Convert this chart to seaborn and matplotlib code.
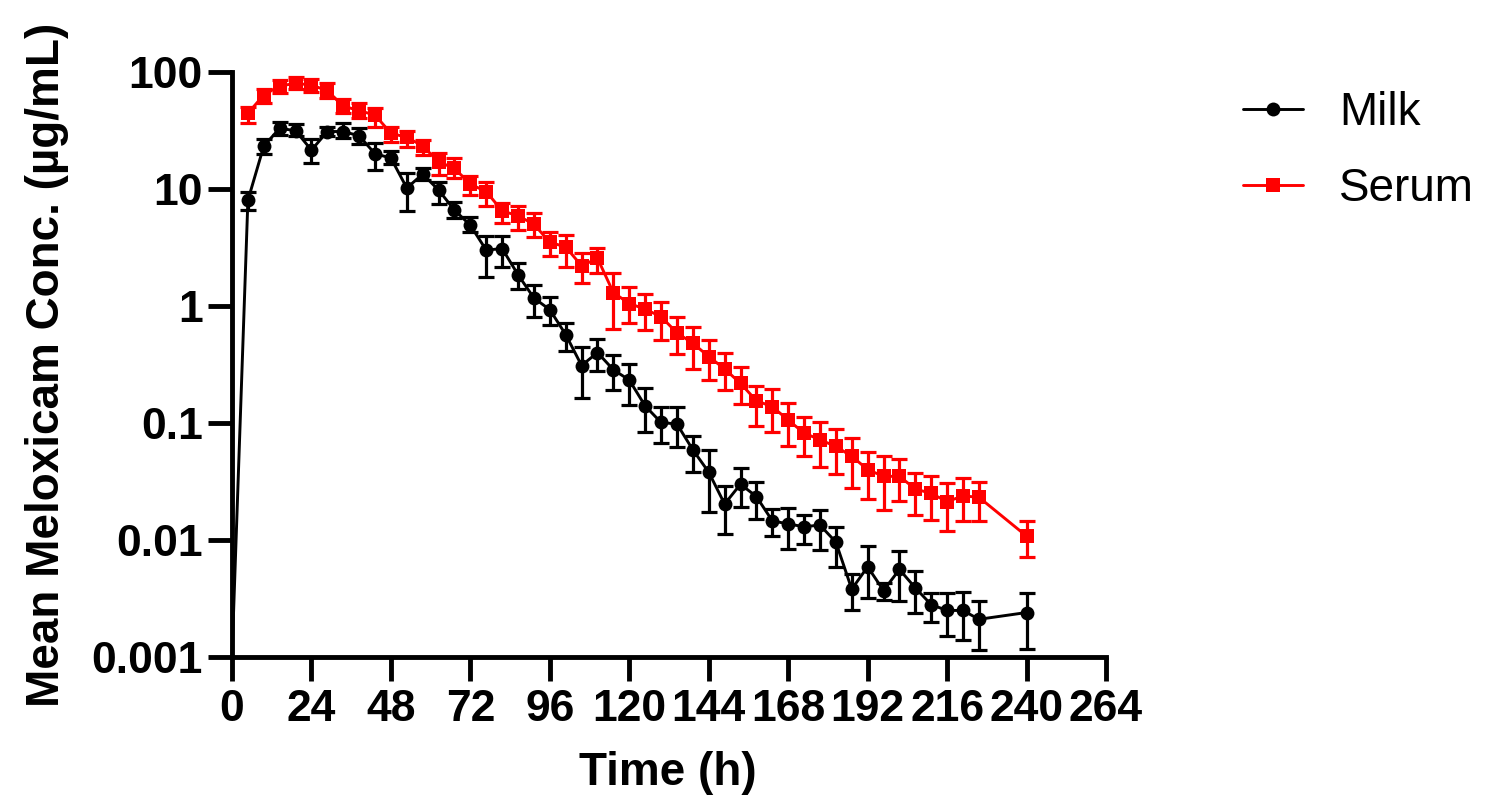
import numpy as np
import pandas as pd
import matplotlib
matplotlib.use("Agg")
import matplotlib.pyplot as plt
import seaborn as sns

# ---- data ----
time_h = [4.8, 9.6, 14.4, 19.2, 24, 28.8, 33.6, 38.4, 43.2, 48,
          52.8, 57.6, 62.4, 67.2, 72, 76.8, 81.6, 86.4, 91.2, 96,
          100.8, 105.6, 110.4, 115.2, 120, 124.8, 129.6, 134.4, 139.2, 144,
          148.8, 153.6, 158.4, 163.2, 168, 172.8, 177.6, 182.4, 187.2, 192,
          196.8, 201.6, 206.4, 211.2, 216, 220.8, 225.6, 240]

milk = [8.0, 23.3, 33, 31.5, 21.5, 31, 31, 28.5, 20, 18.4,
        10.2, 13.4, 9.8, 6.6, 4.9, 3.0, 3.1, 1.85, 1.17, 0.93,
        0.57, 0.31, 0.40, 0.285, 0.233, 0.14, 0.101, 0.098, 0.059, 0.038,
        0.0203, 0.030, 0.0235, 0.0146, 0.0137, 0.013, 0.0134, 0.0096, 0.0038, 0.0059,
        0.0037, 0.0056, 0.0039, 0.0028, 0.0025, 0.0025, 0.0021, 0.0024]
milk_lo = [6.6, 19.8, 28.9, 28.4, 16.6, 28.4, 27.1, 24.3, 14.6, 16.4,
           6.5, 11.9, 7.5, 5.6, 4.3, 1.78, 2.17, 1.39, 0.81, 0.69,
           0.41, 0.163, 0.28, 0.19, 0.143, 0.083, 0.068, 0.062, 0.038, 0.0175,
           0.0112, 0.0193, 0.015, 0.0108, 0.0083, 0.0092, 0.0082, 0.0059, 0.0025, 0.0032,
           0.0031, 0.0030, 0.0024, 0.0020, 0.0015, 0.0014, 0.00115, 0.00117]
milk_hi = [9.5, 26.6, 37.6, 35.7, 26.6, 34, 36.4, 33, 24.6, 21.2,
           13.6, 15.0, 11.5, 7.8, 5.8, 4.0, 3.96, 2.32, 1.51, 1.19,
           0.72, 0.45, 0.52, 0.38, 0.32, 0.198, 0.136, 0.136, 0.077, 0.059,
           0.029, 0.041, 0.0315, 0.0183, 0.0187, 0.0164, 0.018, 0.013, 0.0051, 0.0088,
           0.0043, 0.0081, 0.0054, 0.0035, 0.0035, 0.0036, 0.0030, 0.0035]

serum = [44.4, 63.6, 75.9, 80, 77.4, 69.2, 51.2, 46.7, 42.9, 29.9,
         27.7, 23.3, 17.1, 15.0, 11.0, 9.5, 6.5, 5.9, 5.0, 3.5,
         3.2, 2.2, 2.56, 1.30, 1.05, 0.94, 0.81, 0.59, 0.48, 0.37,
         0.29, 0.218, 0.155, 0.138, 0.106, 0.082, 0.072, 0.063, 0.052, 0.040,
         0.035, 0.035, 0.0273, 0.025, 0.0213, 0.0238, 0.0232, 0.0108]
serum_lo = [36.4, 54, 65.8, 71, 67.9, 59.6, 44.4, 40.2, 34, 25.4,
            22.7, 19.6, 13.2, 12.3, 8.9, 7.1, 5.15, 4.5, 3.87, 2.67,
            2.17, 1.58, 1.9, 0.64, 0.71, 0.62, 0.51, 0.39, 0.29, 0.233,
            0.19, 0.145, 0.094, 0.084, 0.064, 0.052, 0.042, 0.037, 0.028, 0.0223,
            0.018, 0.0217, 0.0164, 0.0148, 0.012, 0.0146, 0.0146, 0.0072]
serum_hi = [50.6, 71, 85.5, 91, 86.5, 80, 58.5, 54, 49, 34,
            31.5, 26.2, 20.4, 18.3, 12.9, 11.5, 7.6, 7.1, 6.2, 4.3,
            4.05, 2.86, 3.11, 1.93, 1.45, 1.27, 1.09, 0.81, 0.66, 0.51,
            0.40, 0.30, 0.207, 0.194, 0.147, 0.112, 0.101, 0.088, 0.074, 0.056,
            0.052, 0.049, 0.0376, 0.035, 0.0305, 0.0336, 0.0315, 0.0146]

# milk line starts from the origin (below the lower limit of quantification)
milk_t0 = 0
milk_v0 = 0.001

x_ticks = [0, 24, 48, 72, 96, 120, 144, 168, 192, 216, 240, 264]
y_ticks = [0.001, 0.01, 0.1, 1, 10, 100]
y_labels = ["0.001", "0.01", "0.1", "1", "10", "100"]

# ---- style ----
sns.set_style("ticks")
plt.rcParams["font.family"] = ["Liberation Sans", "DejaVu Sans"]
for key in ["text.color", "axes.labelcolor", "xtick.color", "ytick.color", "axes.edgecolor"]:
    plt.rcParams[key] = "black"

fig = plt.figure(figsize=(15.06, 8.06), dpi=100)
ax = fig.add_axes([232 / 1506, 149 / 806, 874 / 1506, 585 / 806])

milk_df = pd.DataFrame({"t": [milk_t0] + time_h, "c": [milk_v0] + milk})
serum_df = pd.DataFrame({"t": time_h, "c": serum})

sns.lineplot(data=milk_df, x="t", y="c", ax=ax, color="black", lw=2.1,
             marker="o", markersize=10, markevery=list(range(1, len(milk_df))),
             markeredgewidth=0, label="Milk", clip_on=False, zorder=4)
sns.lineplot(data=serum_df, x="t", y="c", ax=ax, color="#ff0000", lw=2.1,
             marker="s", markersize=9.5, markeredgewidth=0, label="Serum",
             clip_on=False, zorder=3)

m = np.array(milk)
s = np.array(serum)
ax.errorbar(time_h, m, yerr=[m - np.array(milk_lo), np.array(milk_hi) - m],
            fmt="none", ecolor="black", elinewidth=2.3, capsize=5.5, capthick=2.3,
            zorder=4, clip_on=False)
ax.errorbar(time_h, s, yerr=[s - np.array(serum_lo), np.array(serum_hi) - s],
            fmt="none", ecolor="#ff0000", elinewidth=2.3, capsize=5.5, capthick=2.3,
            zorder=3, clip_on=False)

ax.set_yscale("log")
ax.set_xlim(0, 264)
ax.set_ylim(0.001, 100)
ax.set_xticks(x_ticks)
ax.set_xticklabels([str(v) for v in x_ticks])
ax.set_yticks(y_ticks)
ax.set_yticklabels(y_labels)
ax.yaxis.set_minor_locator(matplotlib.ticker.NullLocator())

for side in ["top", "right"]:
    ax.spines[side].set_visible(False)
for side in ["left", "bottom"]:
    ax.spines[side].set_linewidth(3.5)
    ax.spines[side].set_color("black")
    ax.spines[side].set_capstyle("projecting")

ax.tick_params(axis="both", which="major", length=17, width=3.5, color="black",
               labelcolor="black", labelsize=32, pad=4)
ax.tick_params(axis="x", pad=6)
for lab in ax.get_xticklabels() + ax.get_yticklabels():
    lab.set_fontweight("bold")

ax.set_xlabel("Time (h)", fontsize=33, fontweight="bold", color="black")
ax.set_ylabel("Mean Meloxicam Conc. (µg/mL)", fontsize=33, fontweight="bold", color="black")
ax.xaxis.set_label_coords(0.499, -0.16)
ax.yaxis.set_label_coords(-0.186, 0.5)

leg = ax.legend(loc="center left", bbox_to_anchor=(1243 / 1506, 1 - 151 / 806),
                bbox_transform=fig.transFigure, frameon=False, fontsize=33,
                handlelength=1.3, handletextpad=0.8, labelspacing=0.7, borderpad=0,
                borderaxespad=0)
for t in leg.get_texts():
    t.set_color("black")

fig.savefig("out.png", dpi=100)
